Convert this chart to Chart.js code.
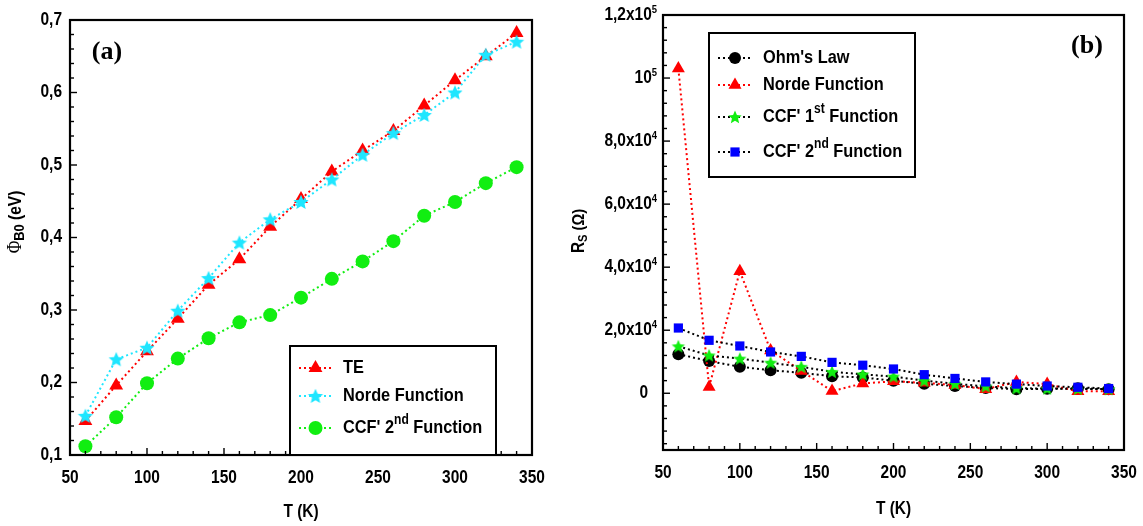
<!DOCTYPE html>
<html>
<head>
<meta charset="utf-8">
<script src="https://cdn.jsdelivr.net/npm/chart.js@4.4.1/dist/chart.umd.min.js"></script>
<style>
  html, body { margin: 0; padding: 0; background: #fff; width: 1143px; height: 526px; overflow: hidden; }
  canvas { position: absolute; top: 0; }
  #panelA { left: 0; }
  #panelB { left: 570px; }
</style>
</head>
<body>
<canvas id="panelA" width="560" height="526"></canvas>
<canvas id="panelB" width="573" height="526"></canvas>
<script>
// Temperature points (K)
const temperatures = [60, 80, 100, 120, 140, 160, 180, 200, 220, 240, 260, 280, 300, 320, 340];

// (a) Zero-bias barrier height (eV)
const barrierTE    = [0.147, 0.196, 0.243, 0.288, 0.335, 0.370, 0.415, 0.453, 0.491, 0.520, 0.547, 0.582, 0.617, 0.650, 0.682];
const barrierNorde = [0.154, 0.232, 0.248, 0.299, 0.344, 0.393, 0.425, 0.449, 0.480, 0.514, 0.544, 0.569, 0.600, 0.652, 0.670];
const barrierCCF2  = [0.112, 0.152, 0.199, 0.233, 0.261, 0.283, 0.293, 0.317, 0.343, 0.367, 0.395, 0.430, 0.449, 0.475, 0.497];

// (b) Series resistance (Ohm)
const rsOhm   = [12400, 10200, 8400, 7300, 6500, 5400, 5000, 4000, 3000, 2300, 1700, 1300, 1400, 1600, 1300];
const rsNorde = [103000, 2000, 38700, 13600, 7100, 700, 3100, 3800, 3300, 2600, 1300, 3600, 2900, 600, 600];
const rsCCF1  = [14900, 12000, 11000, 9700, 8400, 6800, 6000, 5300, 4000, 3000, 2200, 1600, 1500, 1400, 1300];
const rsCCF2  = [20700, 16800, 15000, 13100, 11700, 9800, 8900, 7700, 5900, 4700, 3600, 2900, 2300, 1900, 1500];

// Legend labels: even items are normal text, odd items are superscripts
const legendA = [['TE'], ['Norde Function'], ["CCF' 2", 'nd', ' Function']];
const legendB = [["Ohm's Law"], ['Norde Function'], ["CCF' 1", 'st', ' Function'], ["CCF' 2", 'nd', ' Function']];

// Axis tick values
const tempTicks = [50, 100, 150, 200, 250, 300, 350];
const barrierTicks = [0.1, 0.2, 0.3, 0.4, 0.5, 0.6, 0.7];
const rsTicks = [0, 20000, 40000, 60000, 80000, 100000, 120000];

const SANS = "'Liberation Sans', Arial, sans-serif";
const SERIF = "'Liberation Serif', 'Times New Roman', serif";
const NARROW = 0.86; // horizontal squeeze giving a condensed bold face

function starImage(color, r) {
  const c = document.createElement('canvas');
  const s = Math.ceil(2 * r + 2);
  c.width = s; c.height = s;
  const g = c.getContext('2d');
  g.translate(s / 2, s / 2 + r * 0.08);
  g.beginPath();
  for (let i = 0; i < 10; i++) {
    const rad = i % 2 ? r * 0.46 : r;
    const a = -Math.PI / 2 + i * Math.PI / 5;
    g.lineTo(rad * Math.cos(a), rad * Math.sin(a));
  }
  g.closePath();
  g.fillStyle = color;
  g.fill();
  return c;
}

function points(values) {
  return temperatures.map((t, i) => ({ x: t, y: values[i] }));
}

// Condensed text with alternating normal / superscript parts
function drawRich(ctx, parts, x, y, size, supSize, rise, align) {
  const base = `bold ${size}px ${SANS}`;
  const small = `bold ${supSize}px ${SANS}`;
  let w = 0;
  parts.forEach((p, i) => { ctx.font = i % 2 ? small : base; w += ctx.measureText(p).width; });
  ctx.save();
  ctx.translate(x, y);
  ctx.scale(NARROW, 1);
  let cx = align === 'right' ? -w : align === 'center' ? -w / 2 : 0;
  ctx.textAlign = 'left';
  ctx.textBaseline = 'middle';
  parts.forEach((p, i) => {
    ctx.font = i % 2 ? small : base;
    ctx.fillText(p, cx, i % 2 ? -rise : 0);
    cx += ctx.measureText(p).width;
  });
  ctx.restore();
}

// Closed frame with inward ticks on the bottom and left axes
const frameTicks = {
  id: 'frameTicks',
  afterDatasetsDraw(chart, args, o) {
    const { ctx, chartArea: a, scales: { x, y } } = chart;
    ctx.save();
    ctx.strokeStyle = '#000';
    ctx.lineWidth = 1.4;
    const marks = (scale, minor, ratio, draw) => {
      const k0 = Math.ceil(scale.min / minor - 1e-9), k1 = Math.floor(scale.max / minor + 1e-9);
      for (let k = k0; k <= k1; k++) {
        const p = scale.getPixelForValue(k * minor);
        draw(p, ((k % ratio) + ratio) % ratio === 0 ? 7 : 4);
      }
    };
    marks(x, o.xMinor, o.xRatio, (p, len) => {
      ctx.beginPath(); ctx.moveTo(p, a.bottom); ctx.lineTo(p, a.bottom - len); ctx.stroke();
    });
    marks(y, o.yMinor, o.yRatio, (p, len) => {
      ctx.beginPath(); ctx.moveTo(a.left, p); ctx.lineTo(a.left + len, p); ctx.stroke();
    });
    ctx.lineWidth = 2.2;
    ctx.strokeRect(a.left, a.top, a.right - a.left, a.bottom - a.top);
    ctx.restore();
  }
};

// Tick labels for both axes
const tickLabels = {
  id: 'tickLabels',
  afterDraw(chart, args, o) {
    const { ctx, chartArea: a, scales: { x, y } } = chart;
    ctx.save();
    ctx.fillStyle = '#000';
    tempTicks.forEach(v => drawRich(ctx, [String(v)], x.getPixelForValue(v), a.bottom + 23, 18, 12, 0, 'center'));
    if (o.kind === 'barrier') {
      barrierTicks.forEach(v => drawRich(ctx, [v.toFixed(1).replace('.', ',')], a.left - 8, y.getPixelForValue(v), 18, 12, 0, 'right'));
    } else {
      rsTicks.forEach(v => {
        let parts;
        if (v === 0) parts = ['0'];
        else {
          const e = Math.floor(Math.log10(v) + 1e-9);
          const m = v / Math.pow(10, e);
          parts = Math.abs(m - 1) < 1e-9 ? ['10', String(e)] : [m.toFixed(1).replace('.', ',') + 'x10', String(e)];
        }
        drawRich(ctx, parts, a.left - (v === 0 ? 15 : 6), y.getPixelForValue(v), 18, 11, 5, 'right');
      });
    }
    ctx.restore();
  }
};

// Boxed legend drawn from each dataset's own styles
const legendBox = {
  id: 'legendBox',
  afterDraw(chart, args, o) {
    const ctx = chart.ctx;
    ctx.save();
    ctx.fillStyle = '#fff';
    ctx.fillRect(o.left, o.top, o.width, o.height);
    ctx.lineWidth = 2;
    ctx.strokeStyle = '#000';
    ctx.strokeRect(o.left, o.top, o.width, o.height);
    o.rows.forEach((parts, i) => {
      const ds = chart.data.datasets[i];
      const y = o.top + o.rowY[i];
      ctx.save();
      ctx.setLineDash([2, 3]);
      ctx.lineWidth = 2;
      ctx.strokeStyle = ds.borderColor;
      ctx.beginPath();
      ctx.moveTo(o.left + o.lineFrom, y);
      ctx.lineTo(o.left + o.lineTo, y);
      ctx.stroke();
      ctx.restore();
      ctx.fillStyle = ds.pointBackgroundColor;
      ctx.strokeStyle = ds.pointBackgroundColor;
      Chart.helpers.drawPoint(ctx, { pointStyle: ds.pointStyle, radius: ds.pointRadius, rotation: 0, borderWidth: 0 },
        o.left + (o.lineFrom + o.lineTo) / 2, y);
      ctx.fillStyle = '#000';
      drawRich(ctx, parts, o.left + o.textX, y, 19, 14, 8, 'left');
    });
    ctx.restore();
  }
};

// Panel letter and axis titles
const panelText = {
  id: 'panelText',
  afterDraw(chart, args, o) {
    const { ctx, chartArea: a } = chart;
    ctx.save();
    ctx.fillStyle = '#000';
    ctx.textBaseline = 'middle';
    ctx.textAlign = 'center';
    ctx.font = `bold 26px ${SERIF}`;
    ctx.fillText(o.letter, o.letterX, o.letterY);
    drawRich(ctx, ['T (K)'], (a.left + a.right) / 2, o.xTitleY, 18, 12, 0, 'center');
    // rotated y title: main symbol, subscript, unit
    ctx.translate(o.yTitleX, o.yTitleY);
    ctx.rotate(-Math.PI / 2);
    ctx.scale(NARROW, 1);
    ctx.textAlign = 'left';
    const pieces = o.yTitle;
    let w = 0;
    pieces.forEach(p => { ctx.font = p.font; w += ctx.measureText(p.text).width; });
    let cx = -w / 2;
    pieces.forEach(p => { ctx.font = p.font; ctx.fillText(p.text, cx, p.dy || 0); cx += ctx.measureText(p.text).width; });
    ctx.restore();
  }
};

const baseLine = { showLine: true, borderWidth: 2, borderDash: [2, 3], pointBorderWidth: 0, clip: false };

function axisX(height) {
  return {
    type: 'linear', min: 50, max: 350,
    afterFit: s => { s.height = height; },
    grid: { display: false, drawTicks: false }, border: { display: false },
    ticks: { display: false }
  };
}

const red = '#ff0000', cyan = '#1ee6ff', green = '#11ee11', blue = '#0000ff', black = '#000000';

new Chart(document.getElementById('panelA'), {
  type: 'scatter',
  data: {
    datasets: [
      { ...baseLine, label: 'TE', data: points(barrierTE), borderColor: red, backgroundColor: red,
        pointBackgroundColor: red, pointStyle: 'triangle', pointRadius: 8, order: 1 },
      { ...baseLine, label: 'Norde Function', data: points(barrierNorde), borderColor: cyan, backgroundColor: cyan,
        pointBackgroundColor: cyan, pointStyle: starImage(cyan, 8), pointRadius: 8, order: 0 },
      { ...baseLine, label: "CCF' 2nd Function", data: points(barrierCCF2), borderColor: green, backgroundColor: green,
        pointBackgroundColor: green, pointStyle: 'circle', pointRadius: 7, order: 2 }
    ]
  },
  options: {
    responsive: false, animation: false, devicePixelRatio: 1,
    layout: { padding: { top: 20, right: 28, left: 0, bottom: 0 } },
    plugins: {
      legend: { display: false }, tooltip: { enabled: false },
      frameTicks: { xMinor: 10, xRatio: 5, yMinor: 0.02, yRatio: 5 },
      tickLabels: { kind: 'barrier' },
      legendBox: { left: 290, top: 346, width: 206, height: 109, rowY: [22, 50, 82], lineFrom: 9, lineTo: 42, textX: 53, rows: legendA },
      panelText: {
        letter: '(a)', letterX: 107, letterY: 52, xTitleY: 512, yTitleX: 16, yTitleY: 222,
        yTitle: [
          { text: 'Φ', font: `20px ${SERIF}` },
          { text: 'B0', font: `bold 15px ${SANS}`, dy: 4 },
          { text: ' (eV)', font: `bold 18px ${SANS}` }
        ]
      }
    },
    scales: {
      x: axisX(71),
      y: {
        min: 0.1, max: 0.7,
        afterFit: s => { s.width = 70; },
        grid: { display: false, drawTicks: false }, border: { display: false },
        ticks: { display: false }
      }
    }
  },
  plugins: [frameTicks, tickLabels, legendBox, panelText]
});

new Chart(document.getElementById('panelB'), {
  type: 'scatter',
  data: {
    datasets: [
      { ...baseLine, label: "Ohm's Law", data: points(rsOhm), borderColor: black, backgroundColor: black,
        pointBackgroundColor: black, pointStyle: 'circle', pointRadius: 6, order: 3 },
      { ...baseLine, label: 'Norde Function', data: points(rsNorde), borderColor: red, backgroundColor: red,
        pointBackgroundColor: red, pointStyle: 'triangle', pointRadius: 7.5, order: 2 },
      { ...baseLine, label: "CCF' 1st Function", data: points(rsCCF1), borderColor: black, backgroundColor: green,
        pointBackgroundColor: green, pointStyle: starImage(green, 7), pointRadius: 7, order: 1 },
      { ...baseLine, label: "CCF' 2nd Function", data: points(rsCCF2), borderColor: black, backgroundColor: blue,
        pointBackgroundColor: blue, pointStyle: 'rect', pointRadius: 6.5, order: 0 }
    ]
  },
  options: {
    responsive: false, animation: false, devicePixelRatio: 1,
    layout: { padding: { top: 15, right: 19, left: 0, bottom: 0 } },
    plugins: {
      legend: { display: false }, tooltip: { enabled: false },
      frameTicks: { xMinor: 10, xRatio: 5, yMinor: 4000, yRatio: 5 },
      tickLabels: { kind: 'resistance' },
      legendBox: { left: 139, top: 33, width: 206, height: 144, rowY: [25, 52, 84, 119], lineFrom: 9, lineTo: 43, textX: 54, rows: legendB },
      panelText: {
        letter: '(b)', letterX: 517, letterY: 46, xTitleY: 509, yTitleX: 9, yTitleY: 231,
        yTitle: [
          { text: 'R', font: `bold 18px ${SANS}` },
          { text: 'S', font: `bold 13px ${SANS}`, dy: 4 },
          { text: ' (Ω)', font: `bold 17px ${SANS}` }
        ]
      }
    },
    scales: {
      x: axisX(76),
      y: {
        min: -18000, max: 120000,
        afterFit: s => { s.width = 93; },
        grid: { display: false, drawTicks: false }, border: { display: false },
        ticks: { display: false }
      }
    }
  },
  plugins: [frameTicks, tickLabels, legendBox, panelText]
});
</script>
</body>
</html>
